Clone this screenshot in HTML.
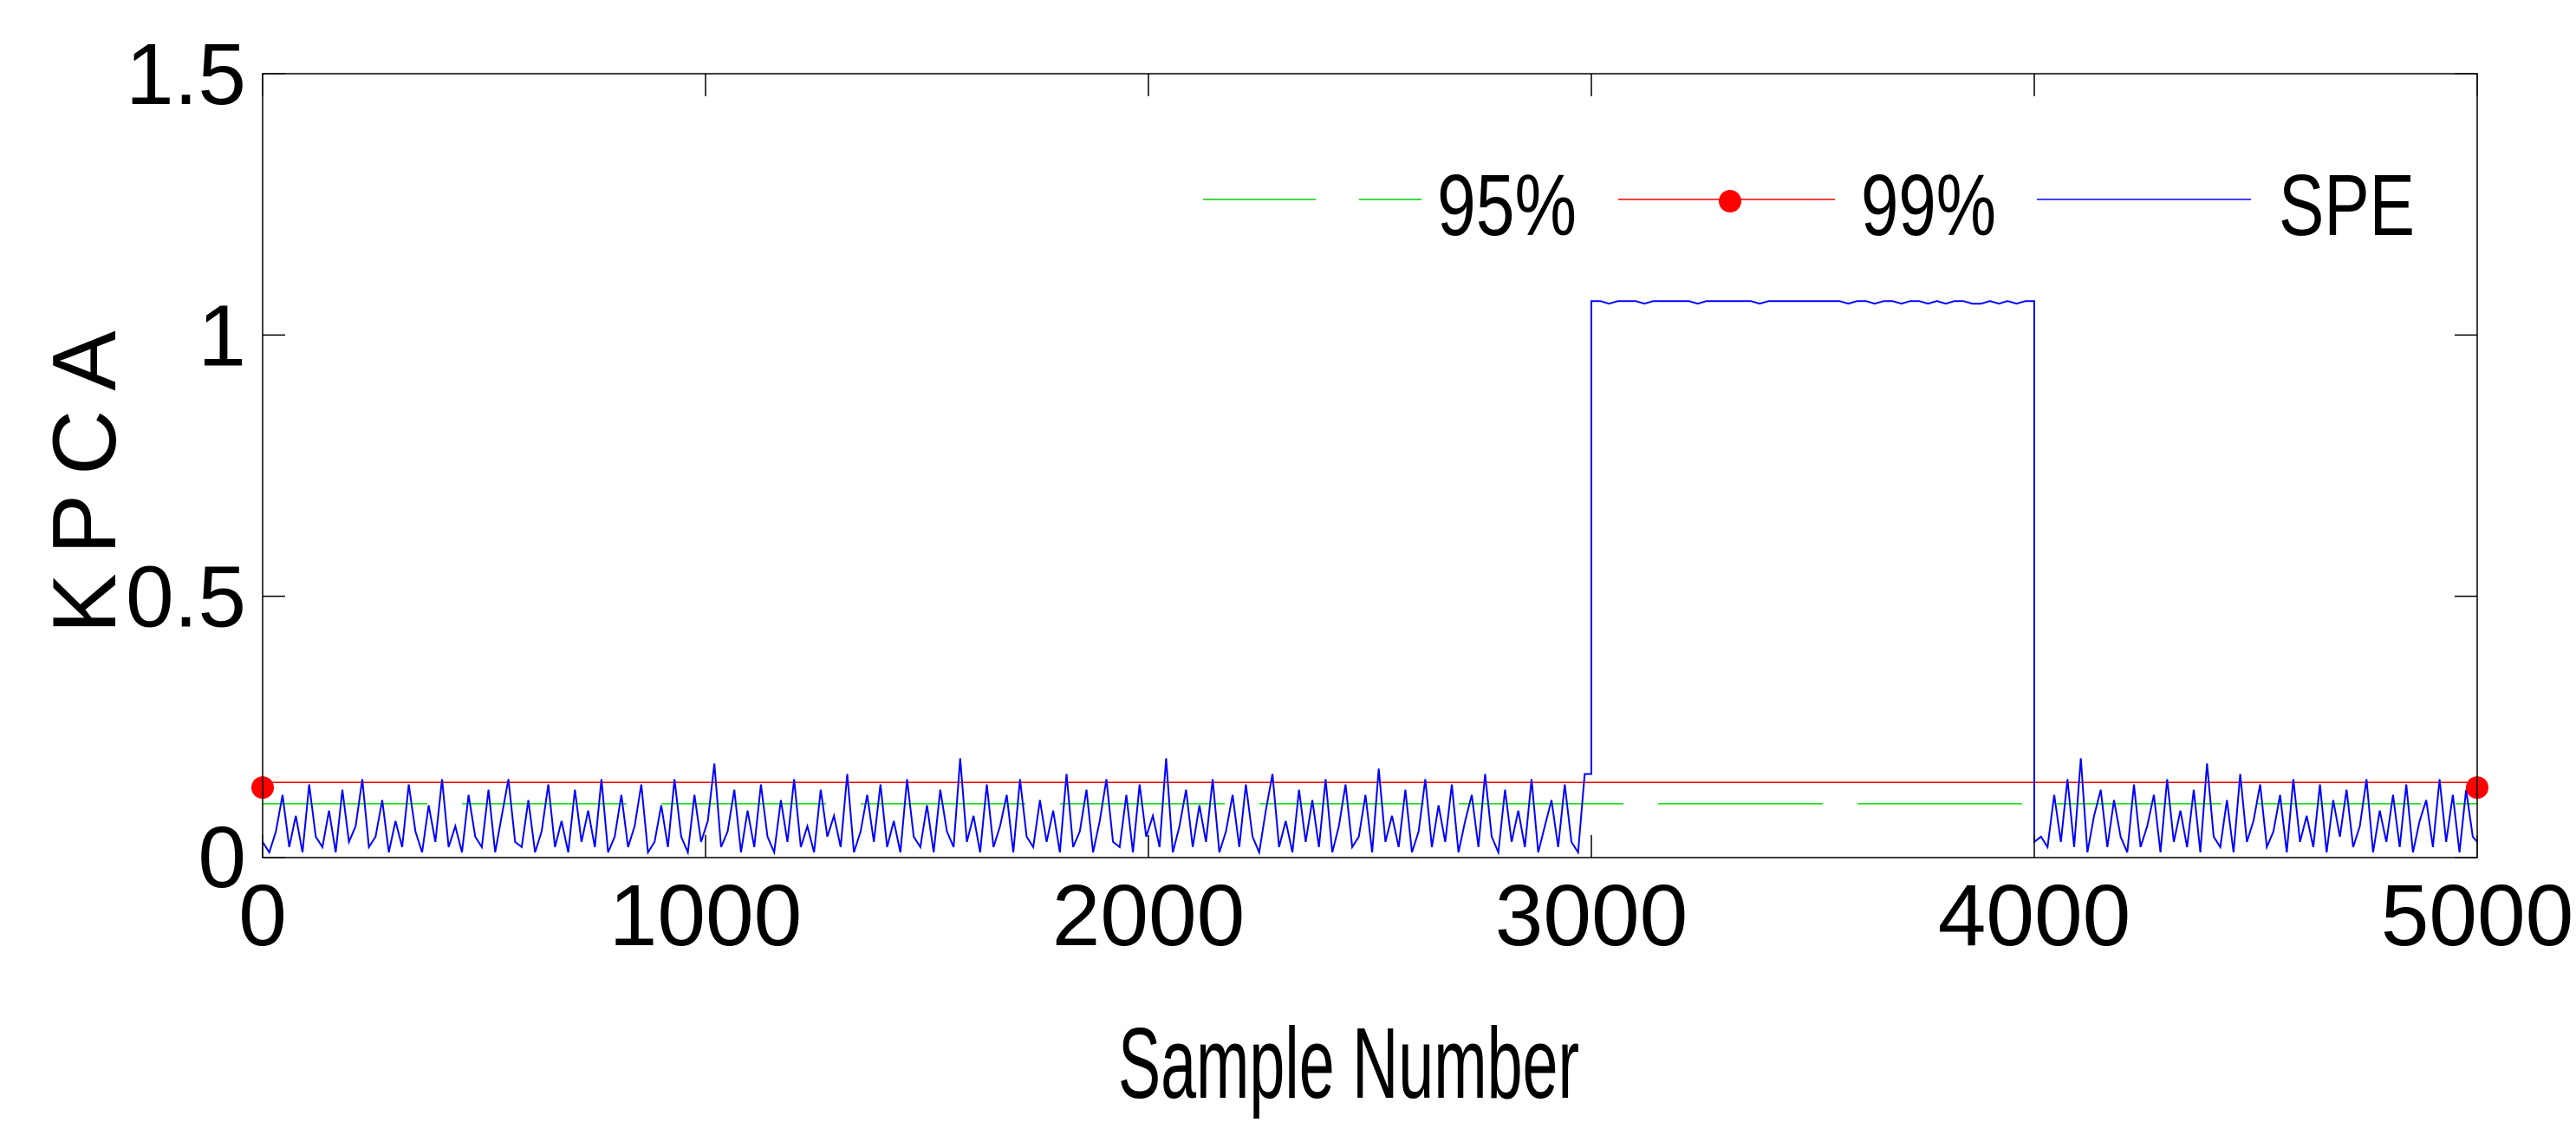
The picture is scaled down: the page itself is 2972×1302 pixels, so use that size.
<!DOCTYPE html>
<html><head><meta charset="utf-8"><style>
html,body{margin:0;padding:0;background:#fff}
svg{display:block}
text{font-family:"Liberation Sans",sans-serif;fill:#000}
</style></head><body>
<svg id="chart" width="2972" height="1302" viewBox="0 0 2972 1302" xmlns="http://www.w3.org/2000/svg">
<rect width="2972" height="1302" fill="#fff"/>
<g id="plot"></g>
<g id="axes"></g>
<text x="1290" y="1266" font-size="116" textLength="532" lengthAdjust="spacingAndGlyphs">Sample Number</text>
<text transform="translate(133,545) rotate(-90)" font-size="104" text-anchor="middle" letter-spacing="22">KPCA</text>
<g>
<line x1="1388" y1="230" x2="1640" y2="230" stroke="#00cc00" stroke-width="1.5" stroke-dasharray="130,50"/>
<text x="1658" y="271" font-size="100" textLength="161" lengthAdjust="spacingAndGlyphs">95%</text>
<line x1="1867" y1="230" x2="2117" y2="230" stroke="#e00" stroke-width="1.5"/>
<circle cx="1996" cy="232" r="13" fill="#f00"/>
<text x="2147" y="271" font-size="100" textLength="156" lengthAdjust="spacingAndGlyphs">99%</text>
<line x1="2350" y1="230" x2="2597" y2="230" stroke="#00f" stroke-width="1.5"/>
<text x="2629" y="271" font-size="100" textLength="157" lengthAdjust="spacingAndGlyphs">SPE</text>
</g>
</svg>
<script>
const xTicks=[0,1000,2000,3000,4000,5000];
const yTicks=[0,0.5,1,1.5];
const yTickLabels=["0","0.5","1","1.5"];
const limit95=0.103;
const limit99=0.144;
const seg1Start=0, seg1Step=15;
const seg1=[.03,.01,.05,.12,.02,.08,.01,.14,.04,.02,.09,.01,.13,.03,.06,.15,.02,.04,.11,.01,
.07,.02,.14,.05,.01,.10,.03,.15,.02,.06,.01,.12,.04,.02,.13,.01,.08,.15,.03,.02,
.11,.01,.05,.14,.02,.07,.01,.13,.03,.09,.02,.15,.01,.04,.12,.02,.06,.14,.01,.03,
.10,.02,.15,.04,.01,.12,.03,.07,.18,.02,.05,.13,.01,.09,.02,.14,.04,.01,.11,.03,
.15,.02,.06,.01,.13,.04,.08,.02,.16,.01,.05,.12,.03,.14,.02,.07,.01,.15,.04,.02,
.10,.01,.13,.05,.02,.19,.03,.08,.01,.14,.02,.06,.12,.01,.15,.04,.02,.11,.03,.09,
.01,.16,.02,.05,.13,.01,.07,.15,.03,.02,.12,.01,.14,.04,.08,.02,.19,.01,.06,.13,
.02,.10,.03,.15,.01,.05,.12,.02,.14,.04,.01,.09,.16,.02,.07,.01,.13,.03,.11,.02,
.15,.01,.06,.14,.02,.04,.12,.01,.17,.03,.08,.02,.13,.01,.05,.15,.02,.10,.03,.14,
.01,.07,.12,.02,.16,.04,.01,.13,.03,.09,.02,.15,.01,.06,.11,.02,.14,.03,.01,.16];
const highStart=3000, highStep=20;
const high=[1.065,1.065,1.06,1.065,1.065,1.065,1.06,1.065,1.065,1.065,1.065,1.065,1.06,1.065,1.065,1.065,1.065,1.065,1.065,1.06,
1.065,1.065,1.065,1.065,1.065,1.065,1.065,1.065,1.065,1.06,1.065,1.065,1.06,1.065,1.065,1.06,1.065,1.065,1.06,1.065,
1.06,1.065,1.065,1.06,1.06,1.065,1.06,1.065,1.06,1.065,1.065];
const seg2Start=4000, seg2Step=15;
const seg2=[.03,.04,.02,.12,.03,.15,.02,.19,.01,.08,.13,.02,.11,.04,.01,.14,.02,.06,.12,.01,
.15,.03,.09,.02,.13,.01,.18,.04,.02,.11,.01,.16,.03,.07,.14,.02,.05,.12,.01,.15,
.03,.08,.02,.14,.01,.11,.04,.13,.02,.06,.15,.01,.09,.03,.12,.02,.14,.01,.07,.11,
.02,.15,.03,.12,.01,.13,.04,.03];
const W0=303,W1=2858,H0=989,H1=85;
const xs=v=>W0+(v-0)/(5000-0)*(W1-W0);
const ys=v=>H0-(v-0)/(1.5-0)*(H0-H1);
const NS="http://www.w3.org/2000/svg";
const plot=document.getElementById('plot'), axes=document.getElementById('axes');
function mk(tag,attrs,parent){const e=document.createElementNS(NS,tag);for(const k in attrs)e.setAttribute(k,attrs[k]);parent.appendChild(e);return e;}
let l=mk('line',{x1:xs(0),x2:xs(5000),y1:ys(limit95),y2:ys(limit95),stroke:'#00dd00','stroke-width':1.5,'stroke-dasharray':'190,40'},plot);


l=mk('line',{x1:xs(0),x2:xs(5000),y1:ys(limit99),y2:ys(limit99),stroke:'#f00','stroke-width':1.5},plot);


const pts=[];
seg1.forEach((v,i)=>pts.push([seg1Start+i*seg1Step,v]));
pts.push([highStart,seg1[seg1.length-1]]);
high.forEach((v,i)=>pts.push([highStart+i*highStep,v]));
pts.push([seg2Start,high[high.length-1]]);
seg2.forEach((v,i)=>pts.push([Math.min(5000,seg2Start+i*seg2Step),v]));
const d=pts.map((p,i)=>(i?'L':'M')+xs(p[0]).toFixed(1)+' '+ys(p[1]).toFixed(1)).join(' ');
const sp=mk('path',{d:d,fill:'none',stroke:'#0000ff','stroke-width':2},plot);


[0,5000].forEach(v=>{const c=mk('circle',{cx:xs(v),cy:ys(limit99)+6,r:13,fill:'#f00'},plot);

});
const fr=mk('rect',{x:W0,y:H1,width:W1-W0,height:H0-H1,fill:'none',stroke:'#000','stroke-width':1.5},axes);


xTicks.forEach(v=>{const x=xs(v);
mk('line',{x1:x,x2:x,y1:H0,y2:H0-26,stroke:'#000','stroke-width':1.5},axes);
mk('line',{x1:x,x2:x,y1:H1,y2:H1+26,stroke:'#000','stroke-width':1.5},axes);
const t=mk('text',{x:x,y:1090,'font-size':100,'text-anchor':'middle'},axes);t.textContent=String(v);

});
yTicks.forEach((v,i)=>{const y=ys(v);
mk('line',{x1:W0,x2:W0+26,y1:y,y2:y,stroke:'#000','stroke-width':1.5},axes);
mk('line',{x1:W1,x2:W1-26,y1:y,y2:y,stroke:'#000','stroke-width':1.5},axes);
const t=mk('text',{x:284,y:y+(i===0?34:35),'font-size':100,'text-anchor':'end'},axes);t.textContent=yTickLabels[i];

});
</script>
</body></html>
